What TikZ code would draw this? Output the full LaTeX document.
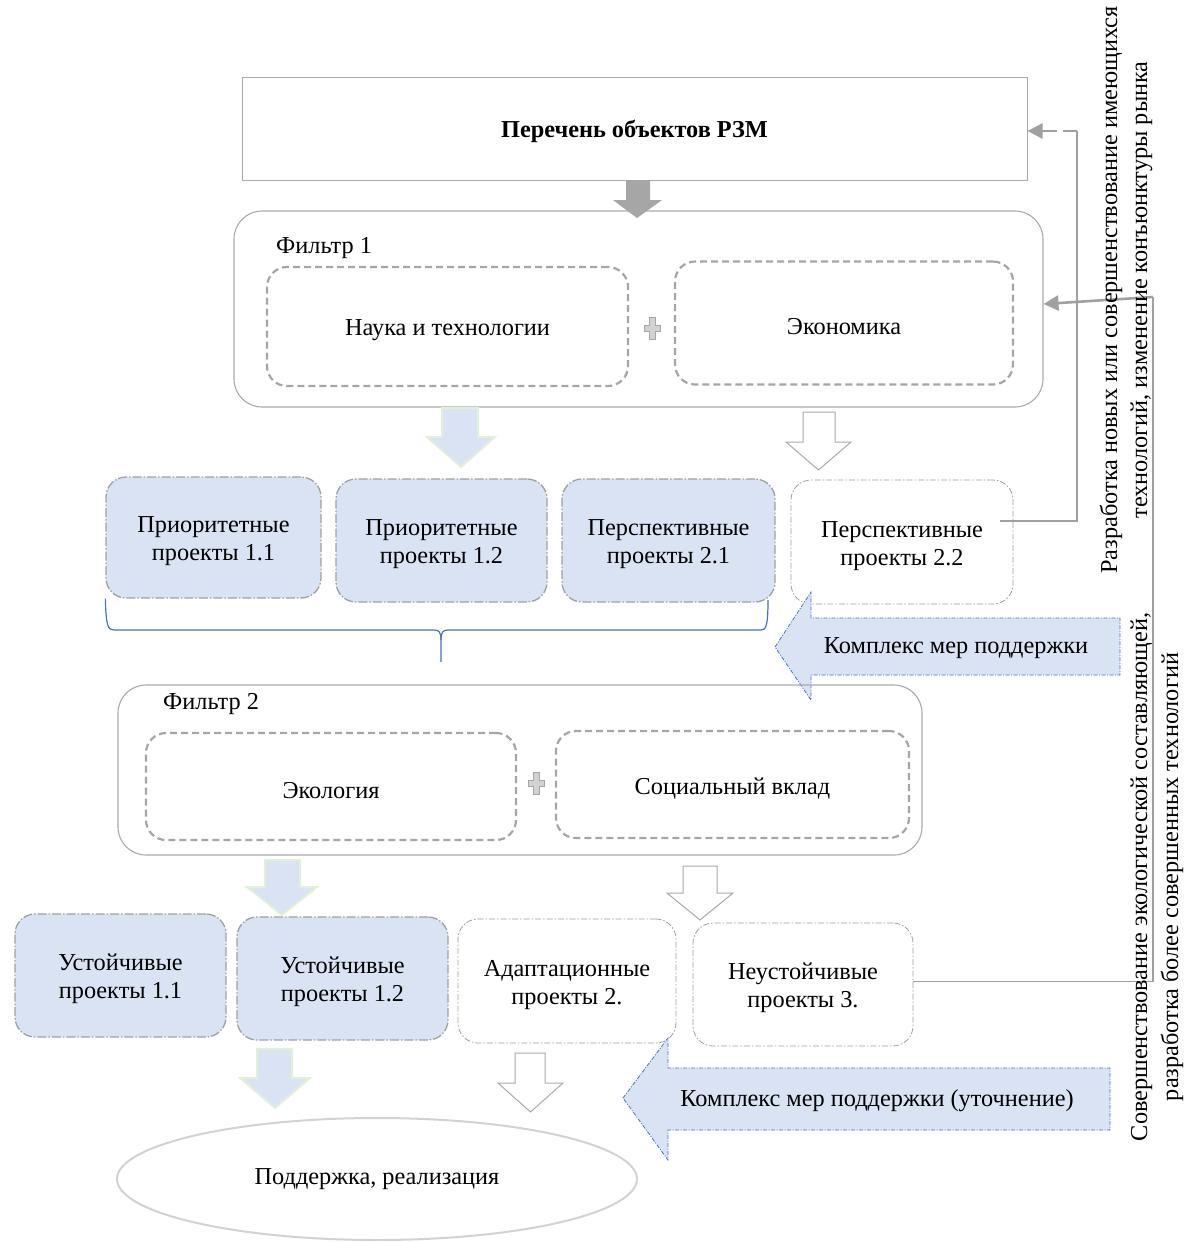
\documentclass[tikz,border=0pt]{standalone}
\usepackage{fontspec}
\setmainfont{Liberation Serif}
\usetikzlibrary{arrows.meta,shapes.geometric}
\definecolor{boxline}{RGB}{170,170,170}
\definecolor{dashline}{RGB}{166,166,166}
\definecolor{lblue}{RGB}{218,227,243}
\definecolor{dblue}{RGB}{68,114,196}
\definecolor{lgreen}{RGB}{226,239,217}
\definecolor{fbgray}{RGB}{160,160,160}
\definecolor{plusfill}{RGB}{210,210,210}
\newcommand{\DArrow}[8]{%
  \draw[#1] (#2,#4) -- (#3,#4) -- (#3,#5) -- (#7,#5) -- ({(#6+#7)/2},#8) -- (#6,#5) -- (#2,#5) -- cycle;}
\newcommand{\lowstrut}{\rule{0pt}{24pt}}
\tikzset{
  txt/.style={font=\fontsize{24.3}{28}\selectfont, align=center, inner sep=0pt},
  lowtext/.style={execute at begin node={\lowstrut}},
  listbox/.style={draw=boxline, line width=1pt, rectangle},
  filterbox/.style={draw=boxline, line width=1.1pt, rounded corners=28pt, rectangle},
  dbox/.style={draw=dashline, line width=2.2pt, dash pattern=on 7pt off 4pt, rounded corners=20pt, rectangle, txt, lowtext},
  projbox/.style={draw=fbgray, fill=lblue, line width=1.3pt, dash pattern=on 9pt off 2pt on 1.5pt off 2pt, rounded corners=20pt, rectangle, txt},
  projwhite/.style={draw=fbgray, fill=white, line width=0.8pt, dash pattern=on 6pt off 2pt on 1.5pt off 2pt, rounded corners=20pt, rectangle, txt},
  bluearrow/.style={fill=lblue, draw=lgreen, line width=2pt, line join=miter},
  whitearrow/.style={fill=white, draw=boxline, line width=1pt, line join=miter},
  bigleft/.style={fill=lblue, draw=dblue, line width=0.8pt, dash pattern=on 4pt off 1.5pt on 1pt off 1.5pt},
  fbline/.style={draw=fbgray, line width=1.2pt},
  fbarrow/.style={draw=fbgray, line width=2.6pt, -{Triangle[length=15pt,width=15pt]}},
  plussign/.pic={\draw[fill=plusfill, draw=dashline, line width=0.8pt]
     (-3,-11) -- (3,-11) -- (3,-3) -- (8,-3) -- (8,3) -- (3,3) -- (3,11) -- (-3,11) -- (-3,3) -- (-8,3) -- (-8,-3) -- (-3,-3) -- cycle;}
}
\begin{document}
\begin{tikzpicture}[x=1pt,y=-1pt]
\useasboundingbox (0,0) rectangle (1185,1243);

% list of objects
\node[listbox, minimum width=785pt, minimum height=103pt, txt, lowtext, font=\bfseries\fontsize{24.3}{28}\selectfont] (list) at (634.5,128.5) {Перечень объектов РЗМ};

% gray arrow
\draw[fill=dashline, draw=none] (626,180) -- (650,180) -- (650,200) -- (662,200) -- (637,218) -- (613,200) -- (626,200) -- cycle;

% Filter 1
\node[filterbox, minimum width=809pt, minimum height=196pt] (f1) at (638.5,309) {};
\node[txt, anchor=west] (f1lab) at (276,248) {Фильтр 1};
\node[dbox, minimum width=361pt, minimum height=119pt] (sci) at (447.5,326.5) {Наука и технологии};
\node[dbox, minimum width=338pt, minimum height=123pt] (eco) at (844,323) {Экономика};
\pic at (652,328) {plussign};

% arrows below filter 1
\DArrow{bluearrow}{442}{478}{408}{437}{427}{495}{467}
\DArrow{whitearrow}{803}{835}{412}{442}{786}{851}{470}

% project boxes
\node[projbox, minimum width=215pt, minimum height=121pt] (p11) at (213.5,537.5) {\lowstrut Приоритетные\\проекты 1.1};
\node[projbox, minimum width=211pt, minimum height=123pt] (p12) at (441.5,540.5) {\lowstrut Приоритетные\\проекты 1.2};
\node[projbox, minimum width=213pt, minimum height=123pt] (p21) at (668.5,540.5) {\lowstrut Перспективные\\проекты 2.1};
\node[projwhite, minimum width=222pt, minimum height=124pt] (p22) at (902,542) {\lowstrut Перспективные\\проекты 2.2};

% brace
\draw[dblue, line width=1.2pt] (p11.south west) .. controls (106,626) and (108,630) .. (114,630) -- (434,630)
   .. controls (439,630) and (441,632) .. (441,640) -- (441,662);
\draw[dblue, line width=1.2pt] (441,640) .. controls (441,632) and (443,630) .. (448,630) -- (761,630)
   .. controls (766,630) and (768,626) .. (768,600);

% support arrow 1
\draw[bigleft] (775,647) -- (811,592) -- (811,618) -- (1120,618) -- (1120,675) -- (811,675) -- (811,700) -- cycle;
\node[txt] (sup1) at (956,648) {Комплекс мер поддержки};

% Filter 2
\node[filterbox, minimum width=804pt, minimum height=170pt] (f2) at (520,770) {};
\node[txt, anchor=west] (f2lab) at (163,704) {Фильтр 2};
\node[dbox, minimum width=370pt, minimum height=107pt] (ecol) at (331,786.5) {Экология};
\node[dbox, minimum width=353pt, minimum height=107pt] (soc) at (732.5,784.5) {Социальный вклад};
\pic at (536,783) {plussign};

% arrows below filter 2
\DArrow{bluearrow}{265}{300}{860}{887}{247}{317}{915}
\DArrow{whitearrow}{683}{717}{866}{893}{667}{733}{920}

% bottom row
\node[projbox, minimum width=211pt, minimum height=123pt] (u11) at (120.5,975.5) {\lowstrut Устойчивые\\проекты 1.1};
\node[projbox, minimum width=211pt, minimum height=123pt] (u12) at (342.5,978.5) {\lowstrut Устойчивые\\проекты 1.2};
\node[projwhite, minimum width=218pt, minimum height=124pt] (ad) at (567,981) {\lowstrut Адаптационные\\проекты 2.};
\node[projwhite, minimum width=220pt, minimum height=123pt] (ne) at (803,984.5) {\lowstrut Неустойчивые\\проекты 3.};

% arrows to ellipse
\DArrow{bluearrow}{257}{292}{1049}{1078}{240}{310}{1108}
\DArrow{whitearrow}{515}{545}{1053}{1083}{498}{563}{1112}

% support arrow 2
\draw[bigleft] (623,1098) -- (668,1038) -- (668,1068) -- (1110,1068) -- (1110,1130) -- (668,1130) -- (668,1160) -- cycle;
\node[txt] (sup2) at (877,1101) {Комплекс мер поддержки (уточнение)};

% ellipse
\node[ellipse, draw=plusfill, line width=2pt, minimum width=520pt, minimum height=122pt, txt] (impl) at (377,1179) {Поддержка, реализация};

% feedback 1
\coordinate (c1t) at (1077,131);
\draw[fbline] ([xshift=-13pt,yshift=21pt]p22.east) -| (c1t);
\draw[fbarrow, dash pattern=on 14pt off 6pt on 40pt off 100pt] (c1t) -- (list.east |- c1t);

% feedback 2
\coordinate (c2t) at (1153,297);
\draw[fbline] ([yshift=3pt]ne.east) -| (c2t);
\draw[fbarrow] (c2t) -- ([yshift=5pt]f1.east);

% rotated notes
\node[txt, rotate=90, font=\fontsize{24.3}{30}\selectfont] (note1) at (1126,290) {Разработка новых или совершенствование имеющихся\\технологий, изменение конъюнктуры рынка};
\node[txt, rotate=90, font=\fontsize{24.3}{31}\selectfont] (note2) at (1157,877) {Совершенствование экологической составляющей,\\разработка более совершенных технологий};
\end{tikzpicture}
\end{document}
